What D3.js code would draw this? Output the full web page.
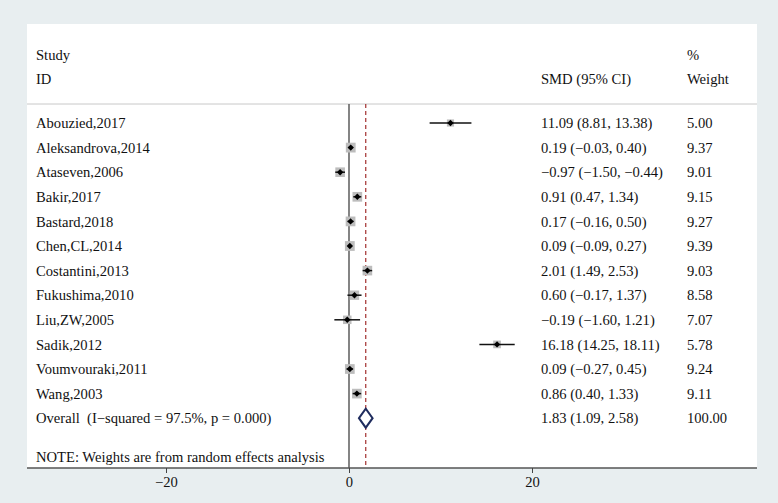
<!DOCTYPE html>
<html>
<head>
<meta charset="utf-8">
<script src="https://cdn.jsdelivr.net/npm/d3@7"></script>
<style>
  html, body { margin: 0; padding: 0; background: #e8eef0; }
  svg { display: block; }
  text { white-space: pre; }
</style>
</head>
<body>
<div id="chart"></div>
<script>
/*****************************************************
 * DATA
 *****************************************************/
const studies = [
  "Abouzied,2017", "Aleksandrova,2014", "Ataseven,2006", "Bakir,2017",
  "Bastard,2018", "Chen,CL,2014", "Costantini,2013", "Fukushima,2010",
  "Liu,ZW,2005", "Sadik,2012", "Voumvouraki,2011", "Wang,2003"
];
const smd   = [11.09, 0.19, -0.97, 0.91, 0.17, 0.09, 2.01, 0.60, -0.19, 16.18, 0.09, 0.86];
const lower = [8.81, -0.03, -1.50, 0.47, -0.16, -0.09, 1.49, -0.17, -1.60, 14.25, -0.27, 0.40];
const upper = [13.38, 0.40, -0.44, 1.34, 0.50, 0.27, 2.53, 1.37, 1.21, 18.11, 0.45, 1.33];
const weights = [5.00, 9.37, 9.01, 9.15, 9.27, 9.39, 9.03, 8.58, 7.07, 5.78, 9.24, 9.11];

const overall = { label: "Overall  (I\u2212squared = 97.5%, p = 0.000)", smd: 1.83, lower: 1.09, upper: 2.58, weight: 100.00 };
const xTicks = [-20, 0, 20];
const note = "NOTE: Weights are from random effects analysis";

/*****************************************************
 * LAYOUT
 *****************************************************/
const width = 778, height = 503;
const panel = { left: 27, top: 24, right: 757, bottom: 468 };
const fontFamily = "'Liberation Serif', 'Times New Roman', serif";
const fontSize = "14.6px";
const textX = 36, ciX = 541, wX = 687;

const svg = d3.select("#chart").append("svg")
  .attr("width", width)
  .attr("height", height);

svg.append("rect")
  .attr("width", width).attr("height", height)
  .attr("fill", "#e8eef0");

svg.append("rect")
  .attr("x", panel.left).attr("y", panel.top)
  .attr("width", panel.right - panel.left)
  .attr("height", panel.bottom - panel.top)
  .attr("fill", "#ffffff");

const x = d3.scaleLinear().domain([-20, 20]).range([166, 532]);
const y = d3.scaleLinear().domain([0, 1]).range([123, 147.6]);

const fmt = d3.format(".2f");
const ciText = (m, l, u) => `${fmt(m)} (${fmt(l)}, ${fmt(u)})`.replace(/-/g, "\u2212");

function addText(tx, ty, str) {
  return svg.append("text")
    .attr("x", tx).attr("y", ty)
    .attr("dy", "0.35em")
    .attr("font-family", fontFamily)
    .attr("font-size", fontSize)
    .attr("fill", "#111")
    .text(str);
}

/*****************************************************
 * HEADER
 *****************************************************/
addText(textX, 55, "Study");
addText(textX, 79, "ID");
addText(ciX, 79, "SMD (95% CI)");
addText(wX, 55, "%");
addText(wX, 79, "Weight");

svg.append("line")
  .attr("x1", panel.left).attr("x2", panel.right)
  .attr("y1", 104).attr("y2", 104)
  .attr("stroke", "#c8c8c8").attr("stroke-width", 1);

/*****************************************************
 * REFERENCE LINES
 *****************************************************/
svg.append("line")
  .attr("x1", x(0)).attr("x2", x(0))
  .attr("y1", 104).attr("y2", panel.bottom)
  .attr("stroke", "#666").attr("stroke-width", 1.6);

svg.append("line")
  .attr("x1", x(overall.smd)).attr("x2", x(overall.smd))
  .attr("y1", 104).attr("y2", panel.bottom)
  .attr("stroke", "#a3302f").attr("stroke-width", 1.2)
  .attr("stroke-dasharray", "4,3");

/*****************************************************
 * STUDY ROWS
 *****************************************************/
const rows = studies.map((s, i) => ({
  study: s, smd: smd[i], lower: lower[i], upper: upper[i], weight: weights[i], i
}));

const g = svg.selectAll(".row")
  .data(rows)
  .enter()
  .append("g")
  .attr("class", "row");

g.append("rect")
  .attr("x", d => x(d.smd) - 1.6 * Math.sqrt(d.weight))
  .attr("y", d => y(d.i) - 1.6 * Math.sqrt(d.weight))
  .attr("width", d => 3.2 * Math.sqrt(d.weight))
  .attr("height", d => 3.2 * Math.sqrt(d.weight))
  .attr("fill", "#bdbdbd");

g.append("line")
  .attr("x1", d => x(d.lower)).attr("x2", d => x(d.upper))
  .attr("y1", d => y(d.i)).attr("y2", d => y(d.i))
  .attr("stroke", "#111").attr("stroke-width", 1.5);

g.append("path")
  .attr("d", d => {
    const cx = x(d.smd), cy = y(d.i), r = 3.2;
    return `M${cx - r},${cy}L${cx},${cy - r}L${cx + r},${cy}L${cx},${cy + r}Z`;
  })
  .attr("fill", "#000");

rows.forEach(d => {
  addText(textX, y(d.i), d.study);
  addText(ciX, y(d.i), ciText(d.smd, d.lower, d.upper));
  addText(wX, y(d.i), fmt(d.weight));
});

/*****************************************************
 * OVERALL
 *****************************************************/
const oy = y(studies.length);
addText(textX, oy, overall.label);
addText(ciX, oy, ciText(overall.smd, overall.lower, overall.upper));
addText(wX, oy, fmt(overall.weight));

svg.append("path")
  .attr("d", `M${x(overall.lower)},${oy}L${x(overall.smd)},${oy - 9.5}L${x(overall.upper)},${oy}L${x(overall.smd)},${oy + 9.5}Z`)
  .attr("fill", "#fff")
  .attr("stroke", "#1f2c5e")
  .attr("stroke-width", 2);

addText(textX, 457, note);

/*****************************************************
 * AXIS
 *****************************************************/
svg.append("line")
  .attr("x1", panel.left).attr("x2", panel.right)
  .attr("y1", panel.bottom).attr("y2", panel.bottom)
  .attr("stroke", "#555").attr("stroke-width", 1.5);

const axis = svg.append("g")
  .attr("transform", `translate(0,${panel.bottom})`)
  .call(d3.axisBottom(x).tickValues(xTicks).tickSize(5).tickPadding(4));

axis.select(".domain").remove();
axis.selectAll(".tick line").attr("stroke", "#444");
axis.selectAll(".tick text")
  .attr("font-family", fontFamily)
  .attr("font-size", fontSize)
  .attr("fill", "#111");
</script>
</body>
</html>
